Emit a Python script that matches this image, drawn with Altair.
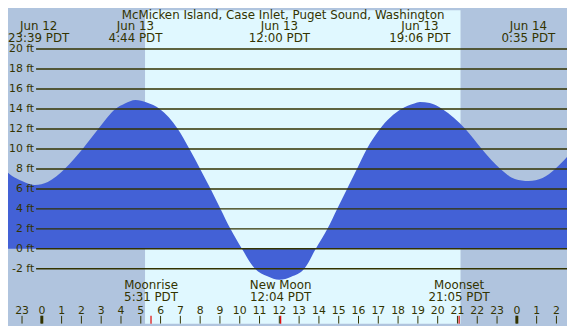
import altair as alt
import pandas as pd

station = "McMicken Island, Case Inlet, Puget Sound, Washington"

# tide curve, hours from Jun 13 00:00 PDT, height in ft
curve_t = [-2.09, -1.93, -1.5, -1.0, -0.35, 0.3, 1.15, 2.06, 2.85, 3.72, 4.2, 4.73,
           5.3, 5.96, 6.87, 7.46, 8.0, 8.53, 9.03, 9.53, 10.11, 10.77, 11.4, 12.0,
           12.6, 13.26, 13.84, 14.43, 14.92, 15.42, 15.92, 16.42, 17.08, 18.16, 18.82,
           19.1, 19.6, 20.23, 21.4, 22.23, 23.17, 23.9, 24.6, 25.3, 25.93, 26.54]
curve_ft = [8.3, 8.0, 7.3, 6.8, 6.4, 6.7, 8.0, 10.0, 12.0, 14.0, 14.55, 14.9,
            14.65, 14.0, 12.0, 10.0, 8.0, 6.0, 4.0, 2.0, 0.0, -2.0, -2.75, -3.1,
            -2.8, -2.0, 0.0, 2.0, 4.0, 6.0, 8.0, 10.0, 12.0, 14.0, 14.55,
            14.7, 14.6, 14.0, 12.0, 10.0, 8.0, 7.0, 6.8, 7.1, 8.0, 9.2]

# high / low tide labels
ext_t = [-0.35, 4.733, 12.0, 19.1, 24.583]
ext_day = ["Jun 12", "Jun 13", "Jun 13", "Jun 13", "Jun 14"]
ext_time = ["23:39 PDT", "4:44 PDT", "12:00 PDT", "19:06 PDT", "0:35 PDT"]

# moon events
moon_t = [5.517, 12.067, 21.083]
moon_name = ["Moonrise", "New Moon", "Moonset"]
moon_time = ["5:31 PDT", "12:04 PDT", "21:05 PDT"]

# daylight
sunrise_t = [5.215]
sunset_t = [21.155]

# axis values
grid_ft = [-2, 0, 2, 4, 6, 8, 10, 12, 14, 16, 18, 20]
hour_t = list(range(-1, 27))
hour_lbl = [str(h % 24) for h in hour_t]
midnight_t = [0, 24]

NIGHT = "#B0C4DE"
DAY = "#E0F8FF"
WATER = "#4361D6"
INK = "#333300"
FONT = "DejaVu Sans"

W, H = 567, 318
xs = alt.Scale(domain=[-1.7085, 26.534], nice=False, zero=False)
ys = alt.Scale(domain=[-7.495, 23.877], nice=False, zero=False)

curve = pd.DataFrame({"t": curve_t, "ft": curve_ft})
ext = pd.DataFrame({"t": ext_t, "day": ext_day, "time": ext_time})
moon = pd.DataFrame({"t": moon_t, "name": moon_name, "time": moon_time})
sun = pd.DataFrame({"rise": sunrise_t, "set": sunset_t})
grid = pd.DataFrame({"ft": grid_ft, "lbl": [f"{v} ft" for v in grid_ft]})
hours = pd.DataFrame({"t": hour_t, "lbl": hour_lbl})
mid = pd.DataFrame({"t": midnight_t})
ttl = pd.DataFrame({"title": [station]})

X = lambda f: alt.X(f, type="quantitative", scale=xs, axis=None)
Y = lambda f: alt.Y(f, type="quantitative", scale=ys, axis=None)

day = alt.Chart(sun).mark_rect(color=DAY).encode(
    x=X("rise"), x2="set", y=alt.value(0), y2=alt.value(H))

water = alt.Chart(curve).mark_area(color=WATER, interpolate="monotone", clip=True).encode(
    x=X("t"), y=Y("ft"), y2=alt.value(H))

gridlines = alt.Chart(grid).mark_rule(color=INK, strokeWidth=1.5).encode(
    x=alt.value(28.5), x2=alt.value(W), y=Y("ft"))

gridlbl = alt.Chart(grid).mark_text(color=INK, font=FONT, fontSize=11, align="right",
                                    baseline="middle").encode(
    x=alt.value(26.5), y=Y("ft"), text="lbl:N")

title = alt.Chart(ttl).mark_text(color=INK, font=FONT, fontSize=12, align="center",
                                 baseline="alphabetic").encode(
    x=alt.value(279), y=alt.value(9), text="title:N")

ext_base = alt.Chart(ext).transform_calculate(tx="max(datum.t, -0.16)")
ext_day_txt = ext_base.mark_text(color=INK, font=FONT, fontSize=12, baseline="alphabetic").encode(
    x=X("tx"), y=alt.value(20.5), text="day:N")
ext_time_txt = ext_base.mark_text(color=INK, font=FONT, fontSize=12, baseline="alphabetic").encode(
    x=X("tx"), y=alt.value(32), text="time:N")

moon_name_txt = alt.Chart(moon).mark_text(color=INK, font=FONT, fontSize=12, baseline="alphabetic").encode(
    x=X("t"), y=alt.value(283), text="name:N")
moon_time_txt = alt.Chart(moon).mark_text(color=INK, font=FONT, fontSize=12, baseline="alphabetic").encode(
    x=X("t"), y=alt.value(295), text="time:N")

hour_txt = alt.Chart(hours).mark_text(color=INK, font=FONT, fontSize=11, baseline="alphabetic",
                                      clip=True).encode(
    x=X("t"), y=alt.value(307.7), text="lbl:N")
hour_ticks = alt.Chart(hours).mark_rule(color=INK, strokeWidth=1, clip=True).encode(
    x=X("t"), y=alt.value(310), y2=alt.value(H))
mid_ticks = alt.Chart(mid).mark_rule(color=INK, strokeWidth=3, clip=True).encode(
    x=X("t"), y=alt.value(310), y2=alt.value(H))
moon_ticks = alt.Chart(moon).mark_rule(color="#E00000", strokeWidth=1.2).encode(
    x=X("t"), y=alt.value(310), y2=alt.value(H))

chart = alt.layer(
    day, water, gridlines, gridlbl, title, ext_day_txt, ext_time_txt,
    moon_name_txt, moon_time_txt, hour_txt, hour_ticks, mid_ticks, moon_ticks
).properties(
    width=W, height=H, autosize=alt.AutoSizeParams(type="none"), padding=0,
    background=NIGHT
).configure_view(stroke=None)

chart.save("out.html", embed_options={"renderer": "svg", "actions": False})
